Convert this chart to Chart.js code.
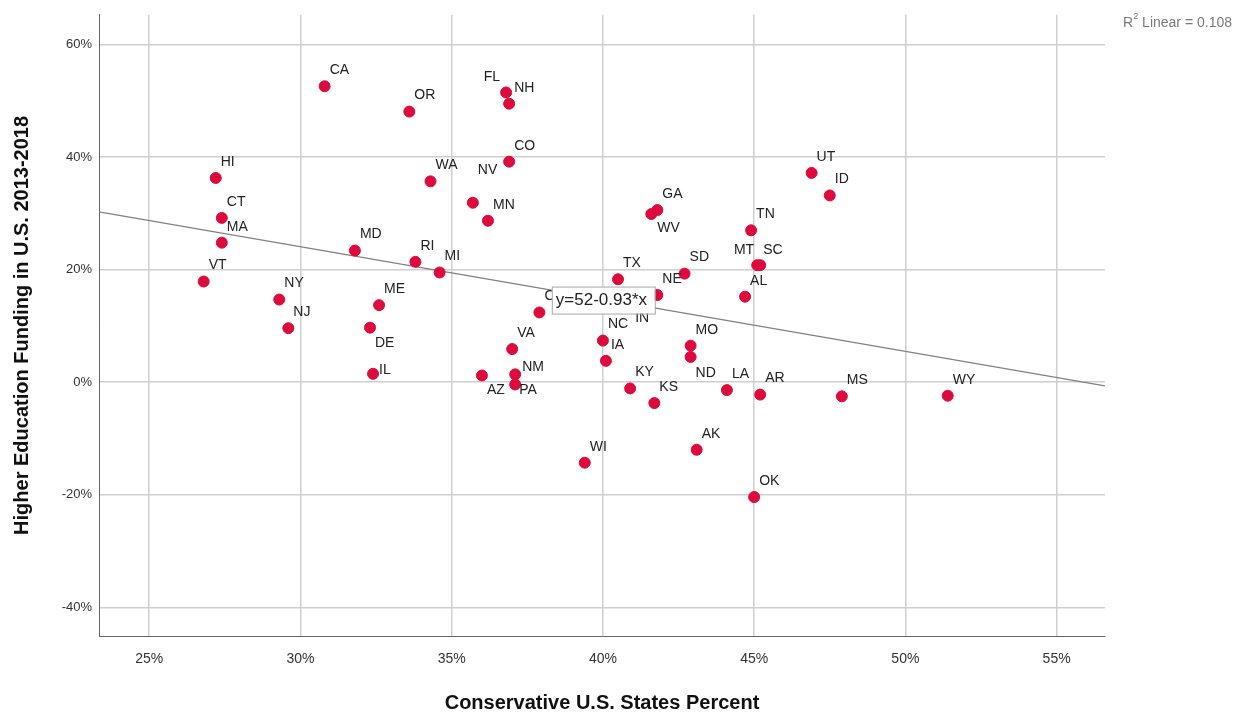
<!DOCTYPE html>
<html>
<head>
<meta charset="utf-8">
<title>Conservative States vs Higher Education Funding</title>
<script src="https://cdn.jsdelivr.net/npm/chart.js@4/dist/chart.umd.min.js"></script>
<style>
  html, body { margin: 0; padding: 0; background: #fff; }
  #wrap { width: 1240px; height: 715px; }
</style>
</head>
<body>
<div id="wrap"><canvas id="scatter"></canvas></div>
<script>
// State abbreviations and values (percent)
const states = ['CA','OR','FL','NH','CO','HI','WA','NV','MN','CT','MA','MD','RI','MI','VT','NY','NJ','ME','DE','IL',
  'OH','VA','AZ','NM','PA','WI','NC','IA','IN','TX','NE','SD','GA','WV','KY','KS','MO','ND','AK','LA',
  'TN','MT','SC','AL','AR','OK','UT','ID','MS','WY'];
const conservativePct = [30.8,33.6,36.8,36.9,36.9,27.2,34.3,35.7,36.2,27.4,27.4,31.8,33.8,34.6,26.8,29.3,29.6,32.6,32.3,32.4,
  37.9,37.0,36.0,37.1,37.1,39.4,40.0,40.1,40.9,40.5,41.8,42.7,41.8,41.6,40.9,41.7,42.9,42.9,43.1,44.1,
  44.9,45.1,45.2,44.7,45.2,45.0,46.9,47.5,47.9,51.4];
const fundingChange = [52.6,48.1,51.5,49.5,39.2,36.3,35.7,31.9,28.7,29.2,24.8,23.4,21.4,19.5,17.9,14.7,9.6,13.7,9.7,1.5,
  12.4,5.9,1.2,1.4,-0.4,-14.3,7.4,3.8,14.0,18.3,15.5,19.3,30.6,29.9,-1.1,-3.7,6.5,4.5,-12.0,-1.4,
  27.0,20.8,20.8,15.2,-2.2,-20.4,37.2,33.2,-2.5,-2.4];

// Fit line as printed on the chart
const fitIntercept = 52;
const fitSlope = -0.93;
const fitR2 = 0.108;

const xTicks = [25, 30, 35, 40, 45, 50, 55];
const yTicks = [-40, -20, 0, 20, 40, 60];
const xRange = [23.34, 56.6];
const yRange = [-45.1, 65.3];

// Where each label sits relative to its dot (default: upper right)
const labelPlace = {
  FL: { dx: -6, dy: -15, align: 'right' },
  MT: { dx: -3, dy: -15, align: 'right' },
  WV: { dx: 6, dy: 14 },
  DE: { dx: 5, dy: 15 },
  ND: { dx: 5, dy: 16 },
  AZ: { dx: 5, dy: 15 },
  PA: { dx: 4, dy: 6 },
  IL: { dx: 6, dy: -4 },
  NM: { dx: 7, dy: -7 },
  NV: { dx: 5, dy: -33 },
  IN: { dx: 5, dy: 15 },
  SC: { dx: 3, dy: -15 }
};

const points = states.map((s, i) => ({ x: conservativePct[i], y: fundingChange[i], label: s }));
const fitLine = xRange.map(x => ({ x: x, y: fitIntercept + fitSlope * x }));

// Draws state labels, the equation box and the R² note
const annotations = {
  id: 'annotations',
  afterDatasetsDraw(chart) {
    const ctx = chart.ctx;
    const xs = chart.scales.x, ys = chart.scales.y;
    ctx.save();
    ctx.font = '14px "Liberation Sans", Arial, sans-serif';
    ctx.fillStyle = '#222';
    ctx.textBaseline = 'middle';
    points.forEach(p => {
      const place = labelPlace[p.label] || { dx: 5, dy: -16 };
      ctx.textAlign = place.align || 'left';
      ctx.fillText(p.label, xs.getPixelForValue(p.x) + place.dx, ys.getPixelForValue(p.y) + place.dy);
    });

    // equation box
    const bx = xs.getPixelForValue(38.31), by = ys.getPixelForValue(17.0);
    ctx.fillStyle = '#fff';
    ctx.fillRect(bx, by, 103, 27);
    ctx.strokeStyle = '#a8a8a8';
    ctx.lineWidth = 1;
    ctx.strokeRect(bx + 0.5, by + 0.5, 103, 27);
    ctx.fillStyle = '#222';
    ctx.textAlign = 'left';
    ctx.font = '17px "Liberation Sans", Arial, sans-serif';
    ctx.fillText('y=52-0.93*x', bx + 4, by + 14);

    // R² note in the top right corner
    ctx.fillStyle = '#7a7a7a';
    ctx.font = '14px "Liberation Sans", Arial, sans-serif';
    ctx.textAlign = 'right';
    const tail = ' Linear = ' + fitR2.toFixed(3);
    const tailW = ctx.measureText(tail).width;
    ctx.fillText(tail, 1232, 23);
    ctx.font = '9px "Liberation Sans", Arial, sans-serif';
    ctx.fillText('2', 1232 - tailW, 17);
    ctx.font = '14px "Liberation Sans", Arial, sans-serif';
    ctx.fillText('R', 1232 - tailW - 5, 23);
    ctx.restore();
  }
};

const ctx = document.getElementById('scatter').getContext('2d');
const scatterChart = new Chart(ctx, {
  type: 'scatter',
  data: {
    datasets: [{
      label: 'States',
      data: points,
      backgroundColor: '#dd0a3c',
      borderColor: '#dd0a3c',
      pointRadius: 5.5,
      pointHoverRadius: 5.5,
      order: 1
    }, {
      type: 'line',
      label: 'Linear fit',
      data: fitLine,
      borderColor: '#808080',
      borderWidth: 1.2,
      pointRadius: 0,
      fill: false,
      order: 2
    }]
  },
  plugins: [annotations],
  options: {
    responsive: true,
    maintainAspectRatio: false,
    animation: false,
    layout: { padding: { left: 0, top: 11, right: 135, bottom: 0 } },
    plugins: {
      legend: { display: false },
      tooltip: { enabled: false }
    },
    scales: {
      x: {
        type: 'linear',
        min: xRange[0],
        max: xRange[1],
        afterBuildTicks: scale => { scale.ticks = xTicks.map(v => ({ value: v })); },
        afterFit: scale => { scale.height = 79; },
        grid: { color: '#cfcfcf', lineWidth: 1.5, drawTicks: false },
        border: { display: true, color: '#666', width: 1 },
        ticks: {
          padding: 15,
          color: '#333',
          font: { family: '"Liberation Sans", Arial, sans-serif', size: 14 },
          callback: v => v + '%'
        },
        title: {
          display: true,
          text: 'Conservative U.S. States Percent',
          color: '#111',
          font: { family: '"Liberation Sans", Arial, sans-serif', size: 20, weight: 'bold' },
          padding: { top: 1, bottom: 0 }
        }
      },
      y: {
        type: 'linear',
        min: yRange[0],
        max: yRange[1],
        afterBuildTicks: scale => { scale.ticks = yTicks.map(v => ({ value: v })); },
        afterFit: scale => { scale.width = 99; },
        grid: { color: '#cfcfcf', lineWidth: 1.5, drawTicks: false },
        border: { display: true, color: '#666', width: 1 },
        ticks: {
          padding: 7,
          color: '#333',
          font: { family: '"Liberation Sans", Arial, sans-serif', size: 13 },
          callback: v => v + '%'
        },
        title: {
          display: true,
          text: 'Higher Education Funding in U.S. 2013-2018',
          color: '#111',
          font: { family: '"Liberation Sans", Arial, sans-serif', size: 20, weight: 'bold' },
          padding: { top: 10, bottom: 0 }
        }
      }
    }
  }
});
</script>
</body>
</html>
